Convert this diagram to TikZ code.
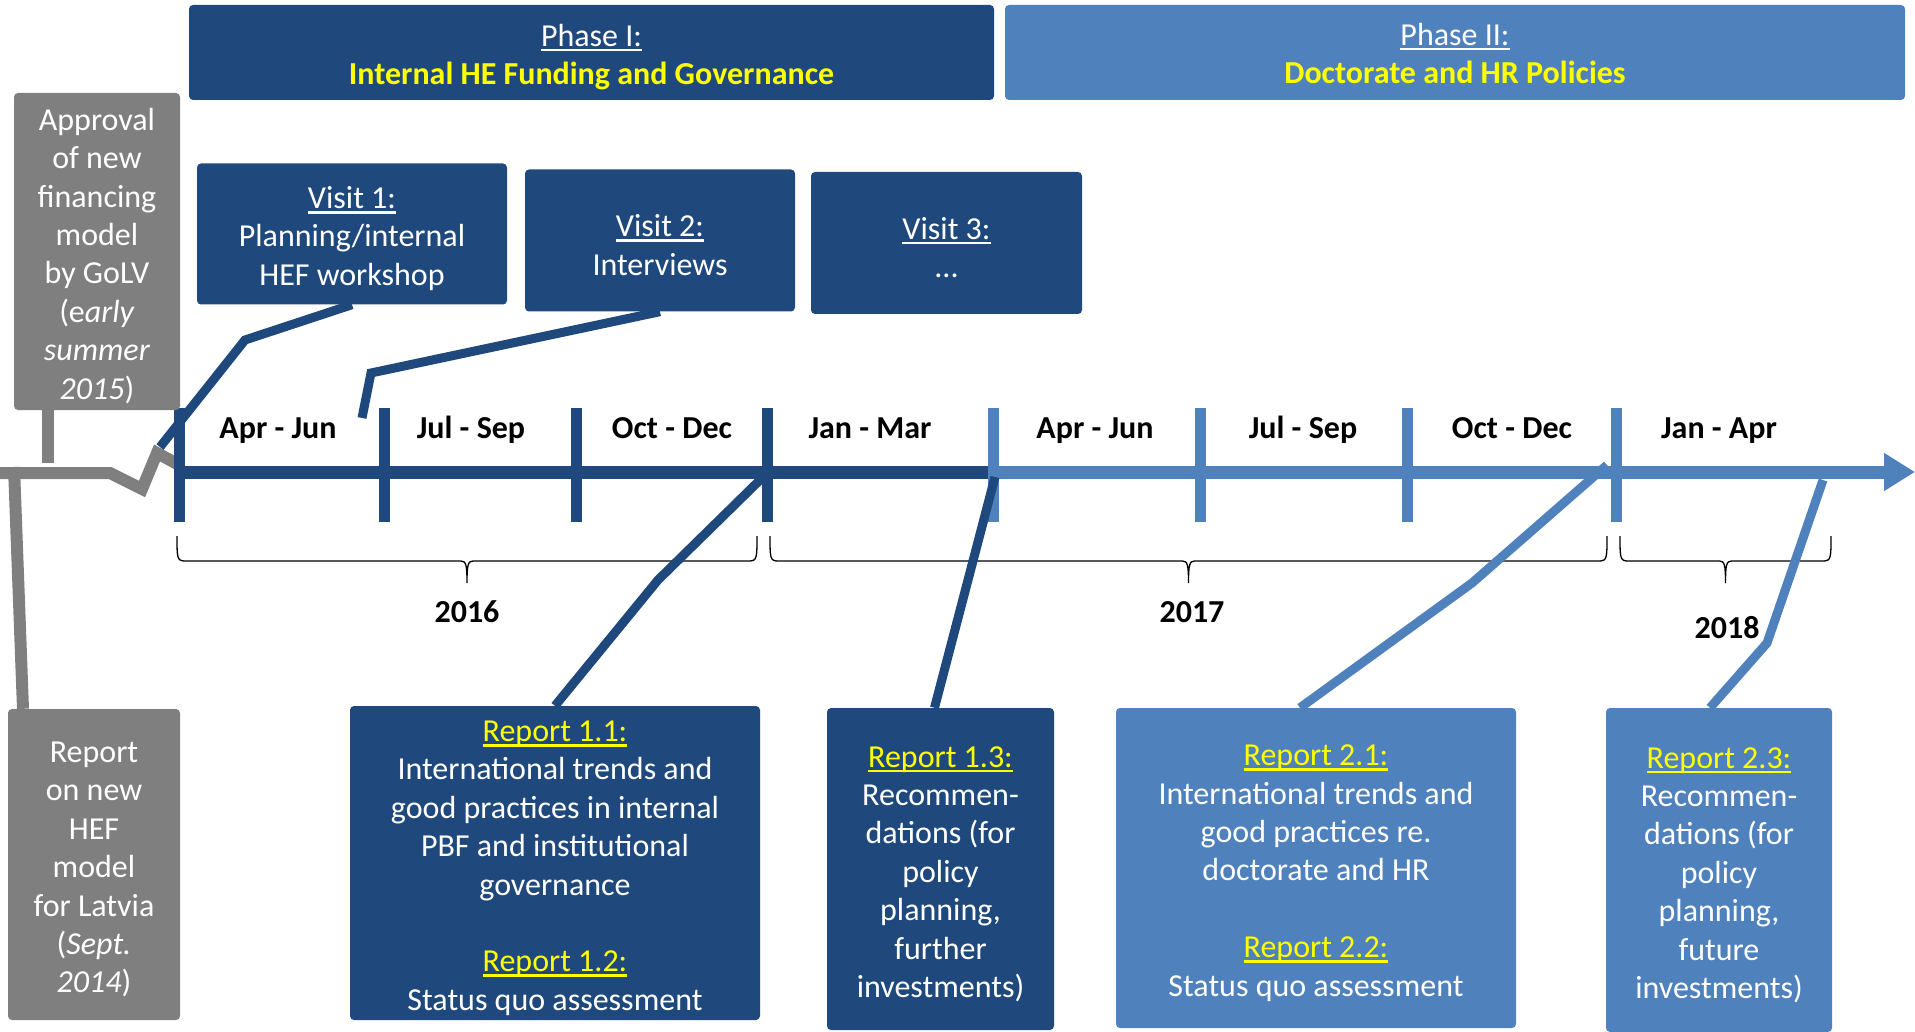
\documentclass[tikz,border=0pt]{standalone}
\usepackage{fontspec}
\setmainfont{Carlito}
\usetikzlibrary{arrows.meta}

\definecolor{dunkelblau}{HTML}{1F497D}
\definecolor{hellblau}{HTML}{4F81BD}
\definecolor{grau}{HTML}{7F7F7F}
\definecolor{gelb}{HTML}{FFFF00}

\newcommand{\grosstext}{\fontsize{32}{38.4}\selectfont}
\newcommand{\kopf}{\rule{0pt}{31pt}}
\newcommand{\fuss}{\rule[-7pt]{0pt}{7pt}}
\newcommand{\unterstrich}[1]{\leavevmode\setbox0\hbox{#1}\rlap{\rule[-5pt]{\wd0}{2.5pt}}\box0}

\begin{document}
\begin{tikzpicture}[x=1pt, y=-1pt,
	kasten/.style={rounded corners=4pt, inner sep=0pt, align=center, text=white, font=\grosstext},
	monat/.style={font=\grosstext\bfseries},
	klammer/.style={line width=1.3pt},
	verbinder/.style={line width=9pt}]
				      \useasboundingbox (0,0) rectangle (1915,1032);

				      % Zeitachse (grau, dunkel, hell)
				      \draw[grau, line width=12pt] (0,473) -- (110,473) -- (142,489) -- (157,453) -- (181,466);
				      \draw[dunkelblau, line width=13pt] (179,472) -- (990,472);
				      \draw[hellblau, line width=13pt, -{Triangle[length=31pt,width=36pt]}] (990,472) -- (1915,472);

				      % Quartalsstriche
				      \foreach \x in {179,384,576,767}
				      \draw[dunkelblau, line width=11pt] (\x,408) -- (\x,522);
				      \foreach \x in {993,1200,1407,1616}
				      \draw[hellblau, line width=11pt] (\x,408) -- (\x,522);

				      % Quartale
				      \foreach \x/\m [count=\i] in {278/Apr - Jun, 471/Jul - Sep, 672/Oct - Dec, 870/Jan - Mar, 1095/Apr - Jun, 1303/Jul - Sep, 1512/Oct - Dec, 1719/Jan - Apr}
				      \node[monat, anchor=base] (monat\i) at (\x,438) {\m};

				      % Jahre (Klammern)
				      \foreach \a/\b in {177/757, 770/1607, 1620/1831}{
				      \pgfmathsetmacro{\mitte}{(\a+\b)/2}
				      \draw[klammer] (\a,536) .. controls (\a,558) and (\a,561) .. (\a+8,561) -- (\mitte-6,561)
				      .. controls (\mitte-1,561) and (\mitte,565) .. (\mitte,583)
				      .. controls (\mitte,565) and (\mitte+1,561) .. (\mitte+6,561) -- (\b-8,561)
				      .. controls (\b,561) and (\b,558) .. (\b,536);
				      }
				      \node[monat] (j2016) at (467,612) {2016};
				      \node[monat] (j2017) at (1192,612) {2017};
				      \node[monat] (j2018) at (1727,628) {2018};

				      % Phasen
				      \node[kasten, fill=dunkelblau, minimum width=805pt, minimum height=95pt] (phase1) at (591.5,52.5)
				      {\kopf\unterstrich{Phase I:}\\\textcolor{gelb}{\bfseries Internal HE Funding and Governance}};
				      \node[kasten, fill=hellblau, minimum width=900pt, minimum height=95pt] (phase2) at (1455,52.5)
				      {\kopf\unterstrich{Phase II:}\\\textcolor{gelb}{\bfseries Doctorate and HR Policies}\fuss};

				      % Ereignisse links (grau)
				      \node[kasten, fill=grau, minimum width=166pt, minimum height=317pt] (approval) at (97,251.5)
				      {\kopf Approval\\of new\\financing\\model\\by GoLV\\(e\textit{arly}\\\textit{summer}\\\textit{2015})};
				      \node[kasten, fill=grau, minimum width=172pt, minimum height=311pt] (report0) at (94,864.5)
				      {\kopf Report\\on new\\HEF\\model\\for Latvia\\(\textit{Sept.}\\\textit{2014})};
				      \coordinate (g1) at (48,463);
				      \coordinate (g2) at (14,467);
				      \draw[grau, line width=12pt] ([xshift=-49pt]approval.south) -- (g1);
				      \draw[grau, line width=12pt] (g2) -- ([xshift=-71pt]report0.north);

				      % Besuche
				      \node[kasten, fill=dunkelblau, minimum width=310pt, minimum height=141pt] (visit1) at (352,234)
				      {\kopf\unterstrich{Visit 1:}\\Planning/internal\\HEF workshop};
				      \node[kasten, fill=dunkelblau, minimum width=270pt, minimum height=142pt] (visit2) at (660,240.5)
				      {\kopf\unterstrich{Visit 2:}\\Interviews};
				      \node[kasten, fill=dunkelblau, minimum width=271pt, minimum height=142pt] (visit3) at (946.5,243)
				      {\kopf\unterstrich{Visit 3:}\\...};
				      \coordinate (v1e) at (160,447);
				      \coordinate (v2e) at (362,418);
				      \draw[dunkelblau, verbinder] (visit1.south) -- (245,340) -- (v1e);
				      \draw[dunkelblau, verbinder] (visit2.south) -- (371,373) -- (v2e);

				      % Berichte
				      \node[kasten, fill=dunkelblau, minimum width=410pt, minimum height=314pt] (rep11) at (555,863)
				      {\kopf\textcolor{gelb}{\unterstrich{Report 1.1:}}\\International trends and\\good practices in internal\\PBF and institutional\\governance\\[38.4pt]
				      \textcolor{gelb}{\unterstrich{Report 1.2:}}\\Status quo assessment};
				      \node[kasten, fill=dunkelblau, minimum width=227pt, minimum height=322pt] (rep13) at (940.5,869)
				      {\kopf\textcolor{gelb}{\unterstrich{Report 1.3:}}\\Recommen-\\dations (for\\policy\\planning,\\further\\investments)};
				      \node[kasten, fill=hellblau, minimum width=400pt, minimum height=320pt] (rep21) at (1316,868)
				      {\kopf\textcolor{gelb}{\unterstrich{Report 2.1:}}\\International trends and\\good practices re.\\doctorate and HR\\[38.4pt]
				      \textcolor{gelb}{\unterstrich{Report 2.2:}}\\Status quo assessment};
				      \node[kasten, fill=hellblau, minimum width=226pt, minimum height=324pt] (rep23) at (1719,870)
				      {\kopf\textcolor{gelb}{\unterstrich{Report 2.3:}}\\Recommen-\\dations (for\\policy\\planning,\\future\\investments)};
				      \coordinate (r11e) at (762,478);
				      \coordinate (r13e) at (995,477);
				      \coordinate (r21e) at (1607,465);
				      \coordinate (r23e) at (1823,480);
				      \draw[dunkelblau, verbinder] (rep11.north) -- (658,580) -- (r11e);
				      \draw[dunkelblau, verbinder] ([xshift=-6pt]rep13.north) -- (r13e);
				      \draw[hellblau, verbinder] ([xshift=-16pt]rep21.north) -- (1472,583) -- (r21e);
				      \draw[hellblau, verbinder] ([xshift=-9pt]rep23.north) -- (1767,643) -- (r23e);

			      \end{tikzpicture}
\end{document}
